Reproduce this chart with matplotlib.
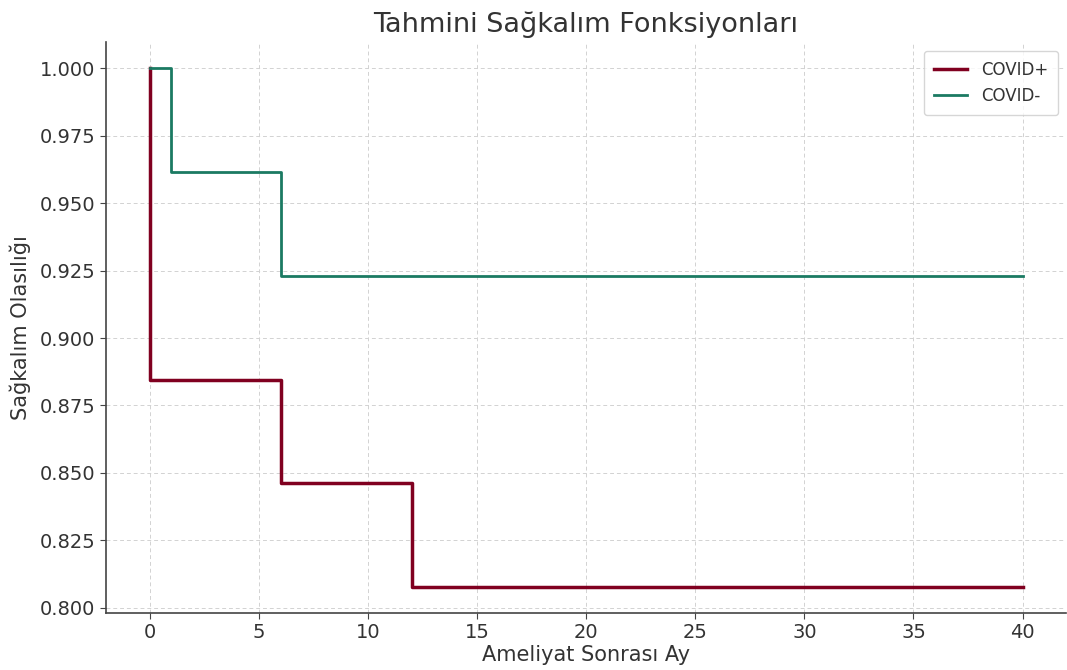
import numpy as np
import matplotlib
matplotlib.use("Agg")
import matplotlib.pyplot as plt

# survival estimates (steps at event months)
months_pos = [0, 0, 6, 12, 40]
surv_pos = [1.0, 0.8846, 0.8462, 0.8077, 0.8077]
months_neg = [0, 1, 6, 40]
surv_neg = [1.0, 0.9615, 0.9231, 0.9231]

red = "#800020"
green = "#1b7a62"
txt = "#333333"

fig = plt.figure(figsize=(10.67, 6.70), dpi=100)
ax = fig.add_axes([0.0993, 0.085, 0.9, 0.852])

ax.step(months_pos, surv_pos, where="post", color=red, lw=2.5, label="COVID+")
ax.step(months_neg, surv_neg, where="post", color=green, lw=2.0, label="COVID-")

ax.set_xlim(-2, 42)
ax.set_ylim(0.7981, 1.0096)
ax.set_xticks(np.arange(0, 45, 5))
ax.set_yticks(np.arange(0.8, 1.001, 0.025))
ax.yaxis.set_major_formatter(matplotlib.ticker.FormatStrFormatter("%.3f"))

ax.grid(True, linestyle=(0, (4, 3)), color="#d2d2d2", lw=0.7)
ax.set_axisbelow(True)
for s in ["top", "right"]:
    ax.spines[s].set_visible(False)
for s in ["left", "bottom"]:
    ax.spines[s].set_color("#444444")
    ax.spines[s].set_linewidth(1.2)
ax.tick_params(colors="#444444", labelcolor=txt, labelsize=14, length=4)

ax.set_title("Tahmini Sağkalım Fonksiyonları", fontsize=19.5, color=txt, pad=7)
ax.set_xlabel("Ameliyat Sonrası Ay", fontsize=15, color=txt, labelpad=2)
ax.set_ylabel("Sağkalım Olasılığı", fontsize=15, color=txt, labelpad=6)

leg = ax.legend(loc="upper right", fontsize=12, frameon=True, borderpad=0.6,
                borderaxespad=0.5)
for t in leg.get_texts():
    t.set_color(txt)

fig.savefig("out.png", dpi=100)
